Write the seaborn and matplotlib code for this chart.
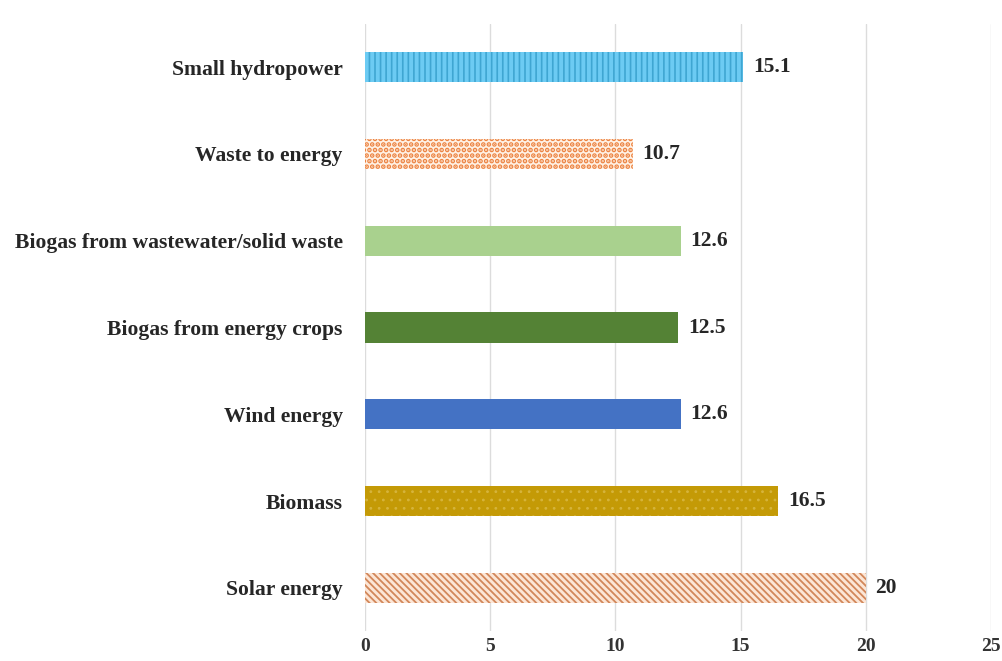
import matplotlib
matplotlib.use("Agg")
import matplotlib.pyplot as plt
import seaborn as sns
import pandas as pd

categories = [
    "Small hydropower",
    "Waste to energy",
    "Biogas from wastewater/solid waste",
    "Biogas from energy crops",
    "Wind energy",
    "Biomass",
    "Solar energy",
]
values = [15.1, 10.7, 12.6, 12.5, 12.6, 16.5, 20]
x_ticks = [0, 5, 10, 15, 20, 25]

# fill, hatch-line colour and hatch pattern for each bar
face_colors = ["#6CCBF3", "#FFF1E4", "#A9D18E", "#548235", "#4472C4", "#C49A06", "#FCE6D6"]
hatch_colors = ["#3FA6D2", "#EC8240", "#A9D18E", "#548235", "#4472C4", "#D6B43C", "#D2875A"]
hatches = ["|||", "...", None, None, None, "..", "\\\\\\\\\\"]
hatch_widths = [1.2, 2.4, 1.0, 1.0, 1.0, 0.8, 1.3]

df = pd.DataFrame({"category": categories, "value": values})

sns.set_theme(style="white")
plt.rcParams["font.family"] = ["Liberation Serif", "DejaVu Serif"]
plt.rcParams["hatch.linewidth"] = 1.2

fig = plt.figure(figsize=(10.03, 6.61), dpi=100)
ax = fig.add_axes([0.364, 0.045, 0.624, 0.919])

sns.barplot(
    data=df, x="value", y="category", hue="category",
    palette=face_colors, orient="h", width=0.35, legend=False, ax=ax,
    linewidth=0,
)

for patch, fc, hc, h, hw in zip(ax.patches, face_colors, hatch_colors, hatches, hatch_widths):
    patch.set_facecolor(fc)
    patch.set_edgecolor(hc)
    patch.set_linewidth(0)
    if h:
        patch.set_hatch(h)
        if hasattr(patch, "set_hatch_linewidth"):
            patch.set_hatch_linewidth(hw)

for container in ax.containers:
    ax.bar_label(container, fmt="%g", padding=7, fontsize=15.5, fontweight="bold", color="#262626")

ax.set_xlim(0, 25)
ax.set_xticks(x_ticks)
ax.set_xticklabels([str(t) for t in x_ticks], fontsize=14, fontweight="bold", color="#333333")
ax.set_yticks(range(len(categories)))
ax.set_yticklabels(categories, fontsize=15.6, fontweight="bold", color="#262626")
ax.set_xlabel("")
ax.set_ylabel("")
ax.tick_params(axis="x", length=0, pad=5)
ax.tick_params(axis="y", length=0, pad=16)
ax.xaxis.grid(True, color="#DCDCDC", linewidth=1)
ax.set_axisbelow(True)
for s in ax.spines.values():
    s.set_visible(False)

fig.savefig("out.png", dpi=100, facecolor="white")
